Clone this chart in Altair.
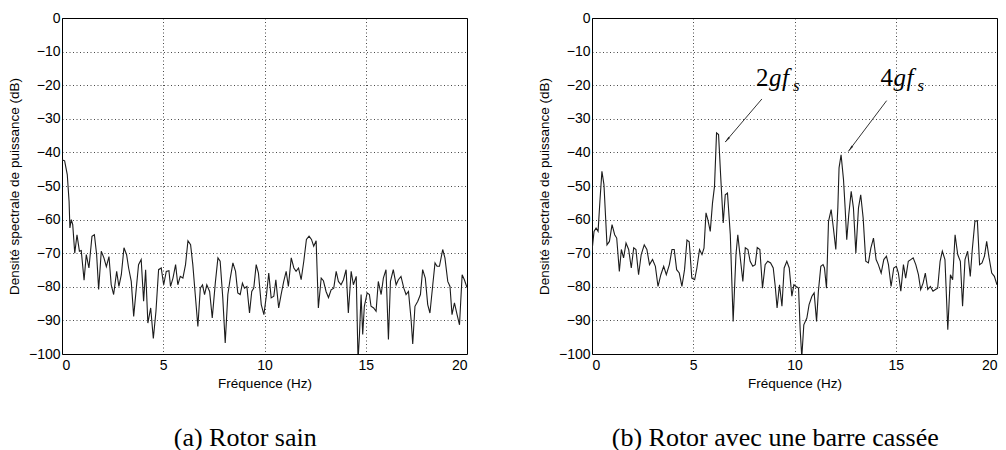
import math
import altair as alt
import pandas as pd

# ---------------- data ----------------
f_a = [0, 0.13, 0.26, 0.35, 0.39, 0.46, 0.53, 0.63, 0.74, 0.86, 0.95, 1.09, 1.2, 1.33, 1.48, 1.6,
       1.71, 1.81, 1.94, 2.07, 2.19, 2.32, 2.43, 2.55, 2.7, 2.81, 2.93, 3.06, 3.19, 3.29, 3.42, 3.54,
       3.67, 3.78, 3.91, 4.03, 4.13, 4.24, 4.38, 4.51, 4.64, 4.77, 4.9, 5.02, 5.15, 5.28, 5.36, 5.48,
       5.61, 5.72, 5.84, 5.97, 6.1, 6.22, 6.35, 6.46, 6.58, 6.71, 6.83, 6.94, 7.04, 7.15, 7.29, 7.42,
       7.57, 7.7, 7.81, 7.94, 8.06, 8.19, 8.31, 8.44, 8.57, 8.68, 8.8, 8.91, 9.01, 9.13, 9.26, 9.37,
       9.47, 9.59, 9.7, 9.84, 9.97, 10.1, 10.21, 10.33, 10.46, 10.56, 10.7, 10.82, 10.95, 11.07, 11.18,
       11.32, 11.45, 11.56, 11.68, 11.81, 11.94, 12.07, 12.2, 12.32, 12.43, 12.55, 12.66, 12.8, 12.91,
       13.04, 13.16, 13.29, 13.42, 13.54, 13.65, 13.78, 13.9, 14.03, 14.14, 14.28, 14.39, 14.53, 14.62,
       14.69, 14.77, 14.85, 14.93, 15.07, 15.18, 15.26, 15.39, 15.51, 15.62, 15.76, 15.87, 16.0, 16.12,
       16.22, 16.36, 16.5, 16.61, 16.74, 16.88, 16.99, 17.11, 17.24, 17.32, 17.43, 17.57, 17.7, 17.81,
       17.94, 18.06, 18.17, 18.31, 18.42, 18.52, 18.64, 18.8, 18.91, 19.05, 19.16, 19.26, 19.38, 19.51,
       19.63, 19.76, 19.87, 20]
p_a = [-42.2, -42.5, -46.6, -54.6, -62.5, -60, -61.5, -70, -64.5, -69.4, -69.2, -78, -70.4, -74.4, -65, -64.5,
       -70.4, -80.8, -69.4, -71.4, -74, -71, -79.4, -82.3, -75.4, -79.9, -76.4, -68.4, -70.4, -74.4, -78.4, -88.8,
       -80.4, -73.4, -71.9, -84.3, -74.9, -90.8, -86.3, -95.4, -87.3, -74.9, -74.4, -79.4, -75.4, -75.2, -79.9, -77.4,
       -73.4, -79.4, -76.9, -77.4, -73.4, -66.3, -67.5, -73.4, -82.3, -91.8, -80.4, -79.4, -82.3, -79.4, -81.4, -89.3,
       -78.9, -71.4, -72.4, -83.3, -96.7, -82.3, -77.4, -72.9, -75.4, -81.8, -82.3, -78.9, -80.4, -79.9, -87.8, -81.4,
       -80.4, -73.4, -75.9, -85.3, -88.3, -82.3, -75.9, -83.3, -82.8, -77.9, -86.3, -82.3, -78.4, -75.4, -79.9,
       -71.4, -74.4, -75.4, -74.4, -77.9, -72.4, -65.9, -64.9, -65.9, -67.9, -66.3, -86.3, -77.4, -78.2,
       -81.4, -83.2, -80.9, -80.4, -75.4, -78.4, -79.4, -77.9, -74.9, -87.8, -75.4, -79.4, -76.9, -102,
       -94.2, -82.3, -94.2, -85.8, -81.8, -82.3, -85.8, -86.3, -87.3, -78.4, -82.3, -77.4, -74.9, -95.7,
       -78.4, -74.9, -79.4, -77.9, -76.9, -80.4, -82.3, -81.4, -89.8, -97.0, -85.8, -84.3, -82.3, -74.9,
       -77.4, -85.3, -87.8, -79.4, -72.9, -73.9, -73.9, -68.9, -71.4, -78.4, -79.9, -88.3, -84.8, -88.3,
       -91.3, -76.4, -77.9, -80.2]

f_b = [0, 0.1, 0.2, 0.3, 0.39, 0.49, 0.59, 0.74, 0.86, 0.99, 1.12, 1.22, 1.35, 1.45, 1.56, 1.68, 1.81,
       1.94, 2.06, 2.17, 2.3, 2.43, 2.58, 2.71, 2.84, 2.99, 3.13, 3.26, 3.4, 3.54, 3.67, 3.82, 3.95, 4.06,
       4.18, 4.31, 4.44, 4.57, 4.69, 4.8, 4.93, 5.07, 5.18, 5.31, 5.43, 5.53, 5.63, 5.72, 5.84, 5.95, 6.05,
       6.15, 6.25, 6.35, 6.48, 6.58, 6.69, 6.83, 6.97, 7.11, 7.2, 7.34, 7.45, 7.57, 7.7, 7.81, 7.94, 8.06,
       8.16, 8.29, 8.42, 8.55, 8.68, 8.82, 8.95, 9.05, 9.14, 9.26, 9.38, 9.49, 9.62, 9.74, 9.87, 9.97,
       10.08, 10.2, 10.28, 10.36, 10.46, 10.61, 10.72, 10.86, 10.97, 11.09, 11.18, 11.3, 11.41, 11.48,
       11.58, 11.68, 11.81, 11.92, 12.04, 12.14, 12.2, 12.3, 12.42, 12.5, 12.58, 12.68, 12.8, 12.91,
       13.03, 13.16, 13.27, 13.39, 13.52, 13.65, 13.77, 13.9, 14.03, 14.14, 14.28, 14.41, 14.54, 14.64,
       14.77, 14.9, 15.03, 15.13, 15.25, 15.38, 15.49, 15.62, 15.74, 15.86, 15.99, 16.12, 16.23, 16.35,
       16.46, 16.58, 16.71, 16.84, 16.96, 17.07, 17.19, 17.3, 17.43, 17.57, 17.7, 17.81, 17.93, 18.06,
       18.19, 18.3, 18.42, 18.55, 18.68, 18.78, 18.91, 19.03, 19.14, 19.26, 19.38, 19.49, 19.61, 19.74,
       19.87, 20]
p_b = [-69.4, -63.5, -62.5, -63.5, -54.6, -45.6, -49.6, -67.5, -66.5, -61.5, -64.5, -65.5, -75.4, -68.9, -71.4, -67, -68.9,
       -74.4, -68.4, -68.9, -76.4, -70.4, -67.5, -68.9, -73.4, -71.9, -73.9, -79.9, -76.4, -73.9, -76.4, -73.4, -68.9, -68.9,
       -74.9, -75.9, -79.9, -74.9, -66.1, -66.6, -77.4, -77.9, -74.4, -68.9, -70.4, -68.5, -58, -60, -63.5, -55.1, -50.1,
       -34.2, -34.7, -46.6, -61, -52.6, -52.1, -64.5, -90.3, -70.4, -64.5, -72.4, -78.4, -68.4, -68.9, -72.4, -73.9, -73.4,
       -68.3, -68.9, -80.4, -73.4, -72.4, -72.9, -74.4, -79.9, -86.3, -79.4, -85.8, -74.4, -72.4, -74.4, -82.8, -79.4,
       -79.9, -80.4, -92.8, -101, -91.3, -89.3, -85.3, -82.8, -81.8, -90.3, -81.3, -73.9, -73.4, -74.4,
       -80.4, -60.5, -57, -62.5, -68.9, -56.5, -44.6, -40.7, -48.1, -56.5, -66, -58.5, -51.6, -56.5,
       -69.9, -56.5, -52.6, -59.5, -72.4, -72.9, -68.5, -65.5, -71.9, -73.4, -75.9, -71.9, -70.9, -73.4,
       -79.9, -74.4, -73.9, -75.9, -81.3, -73.4, -77.4, -72.4, -71.9, -71.4, -73.4, -76.4, -80.8, -78.9,
       -75.9, -80.8, -79.9, -81.3, -80.8, -80.4, -72.4, -69.4, -71.9, -92.8, -76.4, -77.9, -64.5, -70.4,
       -72.4, -85.8, -71.9, -69.4, -76.9, -68.9, -60.5, -60.3, -73.4, -72.9, -70.9, -66.5, -71.4, -75.9,
       -76.9, -79.4]

x_ticks = [0, 5, 10, 15, 20]
y_ticks = [-100, -90, -80, -70, -60, -50, -40, -30, -20, -10, 0]

x_title = "Fréquence (Hz)"
y_title = "Densité spectrale de puissance (dB)"
caption_a = "(a) Rotor sain"
caption_b = "(b) Rotor avec une barre cassée"

# annotations (panel b): label digit, text anchor, arrow start / end
ann_digit = ["2", "4"]
ann_x = [8.1, 14.25]
ann_y = [-20.3, -20.3]
arr_x1 = [8.39, 14.55]
arr_y1 = [-24.1, -24.6]
arr_x2 = [6.58, 12.66]
arr_y2 = [-36.9, -39.7]

# ---------------- layout ----------------
W, H = 405, 336
X_DOM = [0, 20]
Y_DOM = [-100, 0]
SANS = "Liberation Sans"
SERIF = "Liberation Serif"

xs = alt.Scale(domain=X_DOM, nice=False, zero=False)
ys = alt.Scale(domain=Y_DOM, nice=False, zero=False)
x_axis = alt.Axis(values=x_ticks, title=x_title)
y_axis = alt.Axis(values=y_ticks, title=y_title)


def X(field):
    return alt.X(field, scale=xs, axis=x_axis)


def Y(field):
    return alt.Y(field, scale=ys, axis=y_axis)


def line_layer(f, p):
    df = pd.DataFrame({"f": f, "p": p})
    return alt.Chart(df).mark_line(color="#1c1c1c", strokeWidth=1.1, clip=True).encode(
        x=X("f:Q"), y=Y("p:Q"))


def caption(text, dx):
    return alt.TitleParams(text, orient="bottom", font=SERIF, fontSize=26, fontWeight="normal",
                           color="black", anchor="middle", frame="bounds", offset=35, dx=dx)


panel_a = alt.layer(line_layer(f_a, p_a)).properties(width=W, height=H, title=caption(caption_a, 8))

# annotation tables
arr_df = pd.DataFrame({"x1": arr_x1, "y1": arr_y1, "x2": arr_x2, "y2": arr_y2})
heads = []
for a, b, c, d in zip(arr_x1, arr_y1, arr_x2, arr_y2):
    ux = (c - a) * W / 20.0
    uy = -(d - b) * H / 100.0
    ang = (math.degrees(math.atan2(ux, -uy)) + 360) % 360
    heads.append({"x": c - (c - a) * 0.07, "y": d - (d - b) * 0.07, "angle": ang})
head_df = pd.DataFrame(heads)

shafts = alt.Chart(arr_df).mark_rule(color="#333333", strokeWidth=1).encode(
    x=X("x1:Q"), y=Y("y1:Q"), x2="x2:Q", y2="y2:Q")
arrowheads = alt.Chart(head_df).mark_point(shape="wedge", filled=True, color="#222222", size=60,
                                             opacity=1).encode(
    x=X("x:Q"), y=Y("y:Q"), angle=alt.Angle("angle:Q", scale=None))

lab_df = pd.DataFrame({"x": ann_x, "y": ann_y, "digit": ann_digit,
                       "g": ["g"] * 2, "f": ["f"] * 2, "s": ["s"] * 2})
t_digit = alt.Chart(lab_df).mark_text(font=SERIF, fontSize=25, align="left", baseline="alphabetic",
                                      color="black").encode(x=X("x:Q"), y=Y("y:Q"), text="digit:N")
t_g = alt.Chart(lab_df).mark_text(font=SERIF, fontSize=25, fontStyle="italic", align="left",
                                  baseline="alphabetic", dx=13, color="black").encode(
    x=X("x:Q"), y=Y("y:Q"), text="g:N")
t_f = alt.Chart(lab_df).mark_text(font=SERIF, fontSize=25, fontStyle="italic", align="left",
                                  baseline="alphabetic", dx=26, color="black").encode(
    x=X("x:Q"), y=Y("y:Q"), text="f:N")
t_s = alt.Chart(lab_df).mark_text(font=SERIF, fontSize=17, fontStyle="italic", align="left",
                                  baseline="alphabetic", dx=37, dy=5, color="black").encode(
    x=X("x:Q"), y=Y("y:Q"), text="s:N")

panel_b = alt.layer(line_layer(f_b, p_b), shafts, arrowheads, t_digit, t_g, t_f, t_s).properties(
    width=W, height=H, title=caption(caption_b, 8))

chart = alt.hconcat(panel_a, panel_b, spacing=68).properties(
    padding={"left": 6, "top": 10, "right": 0, "bottom": 0},
    background="white",
).configure_view(
    stroke="black", strokeWidth=1
).configure_axis(
    labelFont=SANS, labelFontSize=14, labelColor="black", labelPadding=2,
    titleFont=SANS, titleFontSize=13.5, titleFontWeight="normal", titleColor="black",
    domain=False, ticks=False,
    grid=True, gridColor="black", gridDash=[1, 2.5], gridWidth=0.8, gridOpacity=0.9,
).configure_axisY(titlePadding=7).configure_axisX(titlePadding=4, labelPadding=4)

chart.save("out.html", embed_options={"renderer": "svg", "actions": False})
